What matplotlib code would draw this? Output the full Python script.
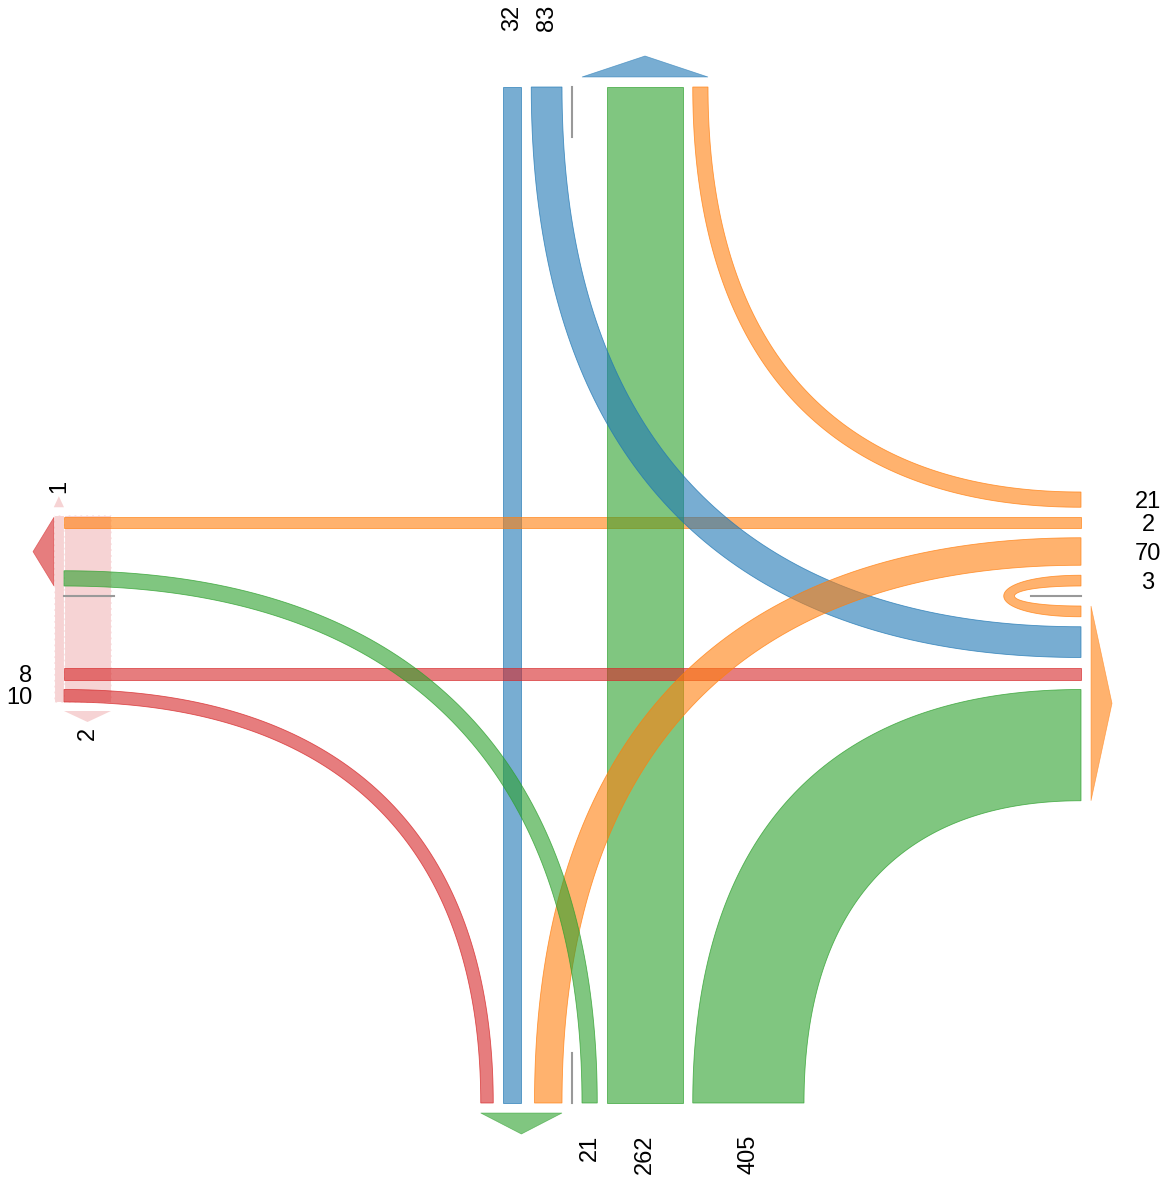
import numpy as np
import matplotlib
matplotlib.use('Agg')
import matplotlib.pyplot as plt
from matplotlib.patches import Polygon
from matplotlib.colors import to_rgba

plt.rcParams['font.family'] = ['Liberation Sans', 'DejaVu Sans']

# turning movement counts per approach, in the order U-turn, left, through, right
legs = ['N', 'E', 'S', 'W']
north_counts = [0, 83, 32, 0]
east_counts = [3, 70, 2, 21]
south_counts = [0, 21, 262, 405]
west_counts = [0, 0, 8, 10]
# pedestrians on the west crosswalk: northbound, southbound
ped_west = [1, 2]

leg_colors = {'N': '#1f77b4', 'E': '#ff7f0e', 'S': '#2ca02c', 'W': '#d62728'}
counts = {'N': north_counts, 'E': east_counts, 'S': south_counts, 'W': west_counts}

# layout (pixels, y down)
X_W, X_E, Y_N, Y_S = 64, 1081, 87, 1103
X_DIV, Y_DIV = 572, 596
GAP = 10
K = 0.65          # bezier handle length for turns
UTURN_LEN = 103
CROSS_W = 47
geo = {
    'N': dict(div=X_DIV, enter=-1, end=Y_N, out=-1),
    'E': dict(div=Y_DIV, enter=-1, end=X_E, out=1),
    'S': dict(div=X_DIV, enter=1, end=Y_S, out=1),
    'W': dict(div=Y_DIV, enter=1, end=X_W, out=-1),
}


def width(n):
    return 10 + 0.25 * n


def arrivals(d):
    j = legs.index(d)
    return [counts[legs[(j - m) % 4]][m] for m in range(4)]


def pre_through(ns):
    off = GAP
    for n in ns[:2]:
        if n > 0:
            off += width(n) + GAP
    return off


def stack(ns, t_off):
    spans = []
    off = GAP
    for m, n in enumerate(ns):
        if m == 2:
            off = max(off, t_off)
        if n > 0:
            spans.append((off, off + width(n)))
            off += width(n) + GAP
        else:
            spans.append(None)
    return spans


def to_pix(leg, span, sign):
    a = geo[leg]['div'] + sign * span[0]
    b = geo[leg]['div'] + sign * span[1]
    return (min(a, b), max(a, b))


def bezier(p0, p1, p2, p3, num=100):
    s = np.linspace(0, 1, num)[:, None]
    p0, p1, p2, p3 = map(np.asarray, (p0, p1, p2, p3))
    return ((1 - s) ** 3 * p0 + 3 * (1 - s) ** 2 * s * p1
            + 3 * (1 - s) * s ** 2 * p2 + s ** 3 * p3)


enter_spans, exit_spans = {}, {}
for i, o in enumerate(legs):
    d = legs[(i + 2) % 4]
    t_off = max(pre_through(counts[o]), pre_through(arrivals(d)))
    sp = stack(counts[o], t_off)
    enter_spans[o] = [to_pix(o, s, geo[o]['enter']) if s else None for s in sp]
    sp = stack(arrivals(d), t_off)
    exit_spans[d] = [to_pix(d, s, -geo[d]['enter']) if s else None for s in sp]

fig = plt.figure(figsize=(11.67, 11.80), dpi=100)
ax = fig.add_axes([0, 0, 1, 1])
ax.set_xlim(0, 1167)
ax.set_ylim(1180, 0)
ax.axis('off')


def band(pts, c, z):
    ax.add_patch(Polygon(pts, closed=True, facecolor=to_rgba(c, 0.6),
                         edgecolor=to_rgba(c, 0.75), lw=0.6, zorder=z))


# pedestrians on the west leg
w_lo = min(s[0] for s in enter_spans['W'] + exit_spans['W'] if s)
w_hi = max(s[1] for s in enter_spans['W'] + exit_spans['W'] if s)
pink = to_rgba(leg_colors['W'], 0.2)
w1 = width(ped_west[0])
ax.add_patch(Polygon([(X_W - w1, w_lo - 2), (X_W, w_lo - 2), (X_W, w_hi), (X_W - w1, w_hi)],
                     facecolor=pink, edgecolor='white', ls='--', lw=0.8, zorder=1))
ax.add_patch(Polygon([(X_W, w_lo - 2), (X_W + CROSS_W, w_lo - 2), (X_W + CROSS_W, w_hi), (X_W, w_hi)],
                     facecolor=pink, edgecolor='white', ls='--', lw=0.8, zorder=1))
ax.add_patch(Polygon([(X_W - w1, w_lo - 10), (X_W, w_lo - 10), (X_W - w1 / 2, w_lo - 21)],
                     facecolor=pink, edgecolor='none', zorder=1))
ax.add_patch(Polygon([(X_W, w_hi + 9), (X_W + CROSS_W, w_hi + 9), (X_W + CROSS_W / 2, w_hi + 20)],
                     facecolor=pink, edgecolor='none', zorder=1))
ax.text(X_W - w1 / 2, w_lo - 24, str(ped_west[0]), rotation=90, ha='center', va='bottom', fontsize=17)
ax.text(X_W + CROSS_W / 2, w_hi + 25, str(ped_west[1]), rotation=90, ha='center', va='top', fontsize=17)

order = [2, 1, 3, 0]  # through, left, right, U-turn
z = 2
for m in order:
    for i, o in enumerate(legs):
        n = counts[o][m]
        if n == 0:
            continue
        d = legs[(i + m) % 4]
        c = leg_colors[o]
        s_o = enter_spans[o][m]
        s_d = exit_spans[d][m]
        if m == 2:
            if o in 'NS':
                pts = [(s_o[0], Y_N), (s_o[1], Y_N), (s_o[1], Y_S), (s_o[0], Y_S)]
            else:
                pts = [(X_W, s_o[0]), (X_E, s_o[0]), (X_E, s_o[1]), (X_W, s_o[1])]
        elif m == 0:
            end = geo[o]['end']
            out = geo[o]['out']
            top, bot = min(s_o[0], s_d[0]), max(s_o[1], s_d[1])
            it, ib = min(s_o[1], s_d[1]), max(s_o[0], s_d[0])
            lo_len = UTURN_LEN
            li_len = UTURN_LEN - width(n) / 0.75
            outer = bezier((end, top), (end - out * lo_len, top), (end - out * lo_len, bot), (end, bot))
            inner = bezier((end, ib), (end - out * li_len, ib), (end - out * li_len, it), (end, it))
            pts = np.vstack([outer, inner])
        else:
            v, h = (o, d) if o in 'NS' else (d, o)
            xs = s_o if v == o else s_d
            ys = s_o if h == o else s_d
            cx, cy = geo[h]['end'], geo[v]['end']
            xi, xo = sorted(xs, key=lambda x: abs(x - cx))
            yi, yo = sorted(ys, key=lambda y: abs(y - cy))
            inner = bezier((xi, cy), (xi, cy + K * (yi - cy)), (cx + K * (xi - cx), yi), (cx, yi))
            outer = bezier((cx, yo), (cx + K * (xo - cx), yo), (xo, cy + K * (yo - cy)), (xo, cy))
            pts = np.vstack([inner, outer])
        band(pts, c, z)
        z += 0.1

# lane dividers, exit arrows and approach labels
for leg in legs:
    g = geo[leg]
    c = leg_colors[leg]
    end, out, div = g['end'], g['out'], g['div']
    ex = [s for s in exit_spans[leg] if s]
    lo = div + GAP if -g['enter'] > 0 else min(s[0] for s in ex)
    hi = max(s[1] for s in ex) if -g['enter'] > 0 else div - GAP
    base, tip = end + out * 10, end + out * 31
    if leg in 'NS':
        ax.plot([div, div], [end, end - out * 50], color='#999999', lw=1.5, zorder=5)
        arrow = [(lo, base), (hi, base), ((lo + hi) / 2, tip)]
    else:
        ax.plot([end, end - out * 50], [div, div], color='#999999', lw=1.5, zorder=5)
        arrow = [(base, lo), (base, hi), (tip, (lo + hi) / 2)]
    ax.add_patch(Polygon(arrow, facecolor=to_rgba(c, 0.6), edgecolor=to_rgba(c, 0.6),
                         lw=0.5, zorder=5))
    for s, n in zip(enter_spans[leg], counts[leg]):
        if not s or n == 0:
            continue
        mid = (s[0] + s[1]) / 2
        if leg == 'N':
            ax.text(mid, end - 56, str(n), rotation=90, ha='center', va='bottom', fontsize=17)
        elif leg == 'S':
            ax.text(mid, end + 32, str(n), rotation=90, ha='center', va='top', fontsize=17)
        elif leg == 'E':
            ax.text(end + 67, mid, str(n), ha='center', va='center_baseline', fontsize=17)
        else:
            ax.text(end - 32, mid, str(n), ha='right', va='center_baseline', fontsize=17)

fig.savefig('out.png', dpi=100)
